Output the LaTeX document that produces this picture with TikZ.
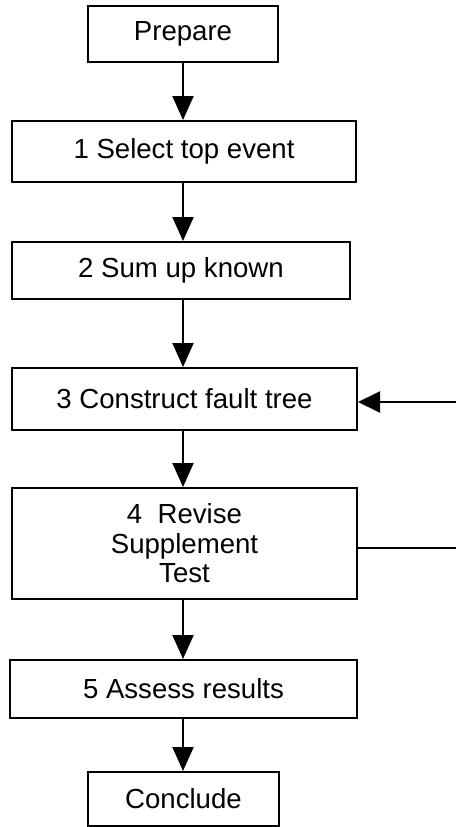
\documentclass[tikz,border=0pt]{standalone}
\usepackage{fontspec}
\setmainfont{Liberation Sans}
\usetikzlibrary{arrows.meta}
\begin{document}
\begin{tikzpicture}[x=1pt,y=-1pt,
  stepbox/.style={draw,line width=2pt,rectangle,inner sep=0pt,align=center,
    font=\fontsize{27.6}{29.5}\selectfont},
  flow/.style={line width=2pt,-{Triangle[length=24pt,width=21pt]}}]
\useasboundingbox (0,0) rectangle (456,827);
\node[stepbox,minimum width=190pt,minimum height=56pt] (prep) at (183,34) {Prepare};
\node[stepbox,minimum width=344pt,minimum height=61pt] (s1) at (184,151.5) {1 Select top event};
\node[stepbox,minimum width=338pt,minimum height=57pt] (s2) at (181,270.5) {2 Sum up known};
\node[stepbox,minimum width=345pt,minimum height=62pt] (s3) at (184.5,399) {3 Construct fault tree};
\node[stepbox,minimum width=345pt,minimum height=111pt] (s4) at (184.5,543.5) {4\ \ Revise\\Supplement\\Test};
\node[stepbox,minimum width=347pt,minimum height=58pt] (s5) at (183.5,689) {5 Assess results};
\node[stepbox,minimum width=191pt,minimum height=54pt] (conc) at (183.5,799) {Conclude};
\draw[flow] (prep.south -| 183,0) -- (s1.north -| 183,0);
\draw[flow] (s1.south -| 183,0) -- (s2.north -| 183,0);
\draw[flow] (s2.south -| 183,0) -- (s3.north -| 183,0);
\draw[flow] (s3.south -| 183,0) -- (s4.north -| 183,0);
\draw[flow] (s4.south -| 183,0) -- (s5.north -| 183,0);
\draw[flow] (s5.south -| 183,0) -- (conc.north -| 183,0);
% feedback from step 4 back into step 3
\coordinate (fbin) at (456,402);
\coordinate (fbout) at (456,548);
\draw[line width=2pt,-{Triangle[length=22pt,width=21pt]}] (fbin) -- (s3.east |- fbin);
\draw[line width=2pt] (s4.east |- fbout) -- (fbout);
\end{tikzpicture}
\end{document}
